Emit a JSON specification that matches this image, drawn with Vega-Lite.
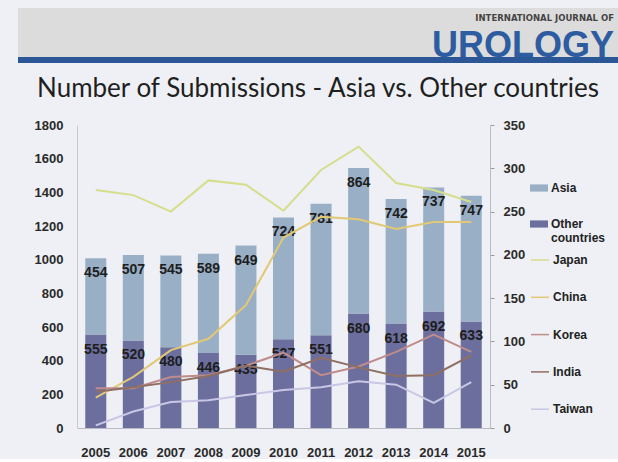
{
  "$schema": "https://vega.github.io/schema/vega-lite/v6.json",
  "background": "#eef0f5",
  "padding": {"left": 18, "top": 8, "right": 0, "bottom": 0},
  "config": {"view": {"stroke": null}, "font": "Liberation Sans"},
  "datasets": {
    "bars": [
      {"year": "2005", "series": "Other countries", "value": 555},
      {"year": "2006", "series": "Other countries", "value": 520},
      {"year": "2007", "series": "Other countries", "value": 480},
      {"year": "2008", "series": "Other countries", "value": 446},
      {"year": "2009", "series": "Other countries", "value": 435},
      {"year": "2010", "series": "Other countries", "value": 527},
      {"year": "2011", "series": "Other countries", "value": 551},
      {"year": "2012", "series": "Other countries", "value": 680},
      {"year": "2013", "series": "Other countries", "value": 618},
      {"year": "2014", "series": "Other countries", "value": 692},
      {"year": "2015", "series": "Other countries", "value": 633},
      {"year": "2005", "series": "Asia", "value": 454},
      {"year": "2006", "series": "Asia", "value": 507},
      {"year": "2007", "series": "Asia", "value": 545},
      {"year": "2008", "series": "Asia", "value": 589},
      {"year": "2009", "series": "Asia", "value": 649},
      {"year": "2010", "series": "Asia", "value": 724},
      {"year": "2011", "series": "Asia", "value": 781},
      {"year": "2012", "series": "Asia", "value": 864},
      {"year": "2013", "series": "Asia", "value": 742},
      {"year": "2014", "series": "Asia", "value": 737},
      {"year": "2015", "series": "Asia", "value": 747}
    ],
    "lines": [
      {"year": "2005", "country": "Japan", "value": 275},
      {"year": "2006", "country": "Japan", "value": 269},
      {"year": "2007", "country": "Japan", "value": 250},
      {"year": "2008", "country": "Japan", "value": 286},
      {"year": "2009", "country": "Japan", "value": 281},
      {"year": "2010", "country": "Japan", "value": 251},
      {"year": "2011", "country": "Japan", "value": 298},
      {"year": "2012", "country": "Japan", "value": 325},
      {"year": "2013", "country": "Japan", "value": 283},
      {"year": "2014", "country": "Japan", "value": 275},
      {"year": "2015", "country": "Japan", "value": 261},
      {"year": "2005", "country": "China", "value": 35},
      {"year": "2006", "country": "China", "value": 59},
      {"year": "2007", "country": "China", "value": 90},
      {"year": "2008", "country": "China", "value": 103},
      {"year": "2009", "country": "China", "value": 142},
      {"year": "2010", "country": "China", "value": 220},
      {"year": "2011", "country": "China", "value": 244},
      {"year": "2012", "country": "China", "value": 241},
      {"year": "2013", "country": "China", "value": 230},
      {"year": "2014", "country": "China", "value": 238},
      {"year": "2015", "country": "China", "value": 238},
      {"year": "2005", "country": "Korea", "value": 46},
      {"year": "2006", "country": "Korea", "value": 46},
      {"year": "2007", "country": "Korea", "value": 59},
      {"year": "2008", "country": "Korea", "value": 61},
      {"year": "2009", "country": "Korea", "value": 72},
      {"year": "2010", "country": "Korea", "value": 87},
      {"year": "2011", "country": "Korea", "value": 61},
      {"year": "2012", "country": "Korea", "value": 71},
      {"year": "2013", "country": "Korea", "value": 88},
      {"year": "2014", "country": "Korea", "value": 108},
      {"year": "2015", "country": "Korea", "value": 88},
      {"year": "2005", "country": "India", "value": 42},
      {"year": "2006", "country": "India", "value": 47},
      {"year": "2007", "country": "India", "value": 53},
      {"year": "2008", "country": "India", "value": 60},
      {"year": "2009", "country": "India", "value": 72},
      {"year": "2010", "country": "India", "value": 65},
      {"year": "2011", "country": "India", "value": 81},
      {"year": "2012", "country": "India", "value": 70},
      {"year": "2013", "country": "India", "value": 60},
      {"year": "2014", "country": "India", "value": 61},
      {"year": "2015", "country": "India", "value": 84},
      {"year": "2005", "country": "Taiwan", "value": 3},
      {"year": "2006", "country": "Taiwan", "value": 19},
      {"year": "2007", "country": "Taiwan", "value": 30},
      {"year": "2008", "country": "Taiwan", "value": 32},
      {"year": "2009", "country": "Taiwan", "value": 38},
      {"year": "2010", "country": "Taiwan", "value": 44},
      {"year": "2011", "country": "Taiwan", "value": 47},
      {"year": "2012", "country": "Taiwan", "value": 54},
      {"year": "2013", "country": "Taiwan", "value": 50},
      {"year": "2014", "country": "Taiwan", "value": 29},
      {"year": "2015", "country": "Taiwan", "value": 53}
    ]
  },
  "align": "none",
  "bounds": "flush",
  "spacing": 117,
  "resolve": {
    "scale": {"color": "independent", "stroke": "independent"},
    "legend": {"color": "independent", "stroke": "independent"}
  },
  "vconcat": [
    {
      "spacing": 0,
      "align": "none",
      "bounds": "flush",
      "vconcat": [
        {
          "width": 600,
          "height": 49,
          "view": {"fill": "#dcdcdc", "stroke": null},
          "title": {
            "text": "INTERNATIONAL JOURNAL OF",
            "subtitle": "UROLOGY",
            "anchor": "end",
            "frame": "group",
            "dx": -4,
            "offset": -56,
            "font": "DejaVu Sans",
            "fontSize": 8.5,
            "fontWeight": "bold",
            "color": "#444444",
            "subtitleFont": "Liberation Sans",
            "subtitleFontSize": 36,
            "subtitleFontWeight": "bold",
            "subtitleColor": "#2d5ca0",
            "subtitlePadding": 7
          },
          "data": {"values": [{}]},
          "mark": {"type": "text"},
          "encoding": {}
        },
        {
          "width": 600,
          "height": 6,
          "view": {"fill": "#2b5797", "stroke": null},
          "data": {"values": [{}]},
          "mark": {"type": "text"},
          "encoding": {}
        }
      ]
    },
    {
      "width": 600,
      "height": 303,
      "title": {
        "text": "Number of Submissions - Asia vs. Other countries",
        "font": "Lato",
        "fontSize": 26,
        "fontWeight": "normal",
        "color": "#1f1f1f",
        "anchor": "middle",
        "frame": "bounds",
        "offset": 17
      },
      "layer": [
        {
          "data": {"name": "bars"},
          "transform": [
            {"stack": "value", "groupby": ["year"], "sort": [{"field": "series", "order": "descending"}], "as": ["v0", "v1"]}
          ],
          "encoding": {
            "x": {
              "field": "year",
              "type": "nominal",
              "scale": {"paddingInner": 0.44, "paddingOuter": 0.22, "range": [59, 472]},
              "axis": {
                "title": null,
                "labelAngle": 0,
                "ticks": false,
                "domainColor": "#b9bcc4",
                "labelFont": "Liberation Sans",
                "labelFontSize": 13,
                "labelFontWeight": "bold",
                "labelColor": "#2a2a2a",
                "labelPadding": 18
              }
            },
            "y": {
              "field": "v1",
              "type": "quantitative",
              "scale": {"domain": [0, 1800]},
              "axis": {
                "title": null,
                "values": [0, 200, 400, 600, 800, 1000, 1200, 1400, 1600, 1800],
                "format": "d",
                "ticks": false,
                "grid": false,
                "offset": -59,
                "domainColor": "#c5c8d0",
                "labelFont": "Liberation Sans",
                "labelFontSize": 13,
                "labelFontWeight": "bold",
                "labelColor": "#2a2a2a",
                "labelPadding": 14
              }
            }
          },
          "layer": [
            {
              "mark": {"type": "bar"},
              "encoding": {
                "y2": {"field": "v0"},
                "color": {
                  "field": "series",
                  "type": "nominal",
                  "scale": {"domain": ["Asia", "Other countries"], "range": ["#99afc6", "#6c6f9e"]},
                  "legend": {
                    "orient": "none",
                    "legendX": 512,
                    "legendY": 54,
                    "title": null,
                    "padding": 0,
                    "symbolType": "M-1,-0.4H1V0.4H-1Z",
                    "symbolSize": 324,
                    "symbolStrokeWidth": 0,
                    "labelFont": "Liberation Sans",
                    "labelFontSize": 12,
                    "labelFontWeight": "bold",
                    "labelColor": "#222222",
                    "labelOffset": 3,
                    "rowPadding": 21,
                    "labelExpr": "datum.label == 'Other countries' ? ['Other', 'countries'] : datum.label"
                  }
                }
              }
            },
            {
              "mark": {"type": "text", "dy": 15, "font": "Liberation Sans", "fontSize": 14, "fontWeight": "bold", "color": "#1e1e1e"},
              "encoding": {"text": {"field": "value", "type": "quantitative"}}
            }
          ]
        },
        {
          "data": {"name": "lines"},
          "mark": {"type": "line", "strokeWidth": 2},
          "encoding": {
            "x": {"field": "year", "type": "nominal"},
            "y": {
              "field": "value",
              "type": "quantitative",
              "scale": {"domain": [0, 350]},
              "axis": {
                "orient": "right",
                "title": null,
                "offset": -128,
                "values": [0, 50, 100, 150, 200, 250, 300, 350],
                "tickSize": 4,
                "tickColor": "#9a9a9a",
                "grid": false,
                "domainColor": "#b9bcc4",
                "labelFont": "Liberation Sans",
                "labelFontSize": 13,
                "labelFontWeight": "bold",
                "labelColor": "#2a2a2a",
                "labelPadding": 9
              }
            },
            "stroke": {
              "field": "country",
              "type": "nominal",
              "scale": {
                "domain": ["Japan", "China", "Korea", "India", "Taiwan"],
                "range": ["#d6dd8b", "#e2c874", "#bf8c8c", "#8f6f62", "#c9c6e6"]
              },
              "legend": {
                "orient": "none",
                "legendX": 512,
                "legendY": 125,
                "title": null,
                "padding": 0,
                "symbolType": "stroke",
                "symbolSize": 324,
                "symbolStrokeWidth": 1.5,
                "labelFont": "Liberation Sans",
                "labelFontSize": 12,
                "labelFontWeight": "bold",
                "labelColor": "#222222",
                "labelOffset": 3,
                "rowPadding": 21.3
              }
            }
          }
        }
      ],
      "resolve": {"scale": {"y": "independent"}}
    }
  ]
}
